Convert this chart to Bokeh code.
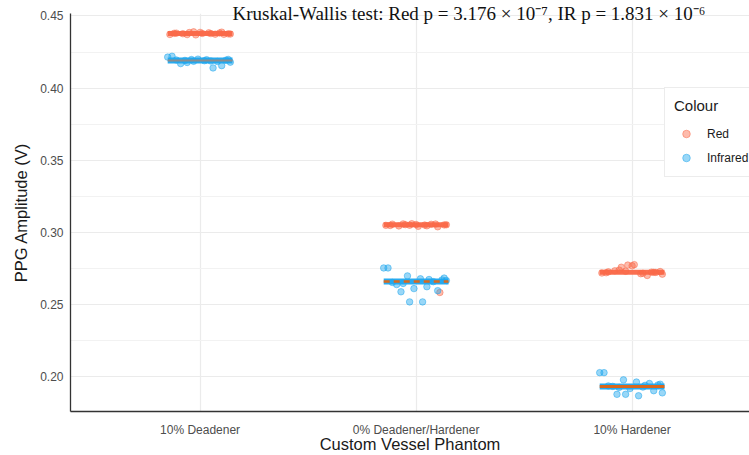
from bokeh.plotting import figure
from bokeh.models import Range1d, FixedTicker, Title, Legend, LegendItem, ColumnDataSource
from bokeh.embed import file_html
from bokeh.resources import INLINE

categories = ["10% Deadener", "0% Deadener/Hardener", "10% Hardener"]
series_names = ["Red", "Infrared"]
y_ticks = [0.20, 0.25, 0.30, 0.35, 0.40, 0.45]
y_minor = [0.175, 0.225, 0.275, 0.325, 0.375, 0.425]

red_deadener = [0.4372, 0.4381, 0.4377, 0.4385, 0.4369, 0.4379, 0.4383, 0.4374, 0.4388,
                0.4376, 0.4380, 0.4371, 0.4386, 0.4378, 0.4382, 0.4375, 0.4390, 0.4373]
red_neutral = [0.3050, 0.3058, 0.3046, 0.3055, 0.3061, 0.3043, 0.3052, 0.3057, 0.3040,
               0.3053, 0.3049, 0.3060, 0.3056, 0.3047, 0.3059, 0.3054, 0.3051, 0.2585]
red_hardener = [0.2720, 0.2728, 0.2735, 0.2760, 0.2775, 0.2778, 0.2715, 0.2703, 0.2725,
                0.2730, 0.2722, 0.2740, 0.2770, 0.2718, 0.2726, 0.2712, 0.2732, 0.2724]

ir_deadener = [0.4221, 0.4215, 0.4198, 0.4190, 0.4185, 0.4194, 0.4170, 0.4188, 0.4201,
               0.4156, 0.4192, 0.4186, 0.4197, 0.4180, 0.4195, 0.4140, 0.4178, 0.4199]
ir_neutral = [0.2755, 0.2755, 0.2700, 0.2680, 0.2660, 0.2672, 0.2640, 0.2625, 0.2612,
              0.2598, 0.2590, 0.2520, 0.2520, 0.2668, 0.2655, 0.2675, 0.2648, 0.2685]
ir_hardener = [0.2030, 0.2030, 0.1980, 0.1965, 0.1955, 0.1945, 0.1935, 0.1930, 0.1920,
               0.1905, 0.1880, 0.1880, 0.1870, 0.1890, 0.1938, 0.1942, 0.1928, 0.1950]

jitter_red = [-0.14, -0.11, -0.08, -0.05, -0.02, 0.01, 0.04, 0.07, 0.10,
              0.13, -0.12, -0.06, 0.00, 0.05, 0.09, 0.14, -0.03, 0.11]
jitter_ir = [-0.13, -0.15, -0.04, 0.02, 0.08, 0.12, -0.09, 0.05, -0.01,
             0.10, -0.07, -0.03, 0.03, 0.14, -0.11, 0.06, -0.06, 0.13]

red_mean = [0.4378, 0.3054, 0.2726]
ir_mean = [0.4192, 0.2661, 0.1934]

title_text = "Kruskal-Wallis test: Red p = 3.176 \u00d7 10\u207b\u2077, IR p = 1.831 \u00d7 10\u207b\u2076"
x_title = "Custom Vessel Phantom"
y_title = "PPG Amplitude (V)"

RED = "#FA6848"
BLUE = "#1DA6EE"
FONT = "Liberation Sans"

W, H = 749, 455
BL, BT, BB = 70, 13, 44

p = figure(width=W, height=H, output_backend="svg", toolbar_location=None,
           x_range=Range1d(-0.6, 2.5435), y_range=Range1d(0.1761, 0.4517),
           min_border_left=BL, min_border_right=0, min_border_top=BT, min_border_bottom=BB)
p.outline_line_color = None
p.background_fill_color = "white"
p.border_fill_color = "white"

p.title = Title(text=title_text, align="left", offset=162, vertical_align="bottom",
                standoff=-20, text_font="Liberation Serif", text_font_size="19px",
                text_font_style="normal", text_color="#111111")

def build(groups, jit):
    xs, ys = [], []
    for i, vals in enumerate(groups):
        for k, v in enumerate(vals):
            xs.append(i + jit[k])
            ys.append(v)
    return ColumnDataSource(dict(x=xs, y=ys))

red_src = build([red_deadener, red_neutral, red_hardener], jitter_red)
ir_src = build([ir_deadener, ir_neutral, ir_hardener], jitter_ir)

r_red = p.scatter("x", "y", source=red_src, size=6.5, fill_color=RED, line_color=RED,
                  fill_alpha=0.45, line_alpha=0.5)
r_ir = p.scatter("x", "y", source=ir_src, size=6.5, fill_color=BLUE, line_color=BLUE,
                 fill_alpha=0.45, line_alpha=0.5)

idx = list(range(len(categories)))
half = 0.15
p.segment(x0=[i - half for i in idx], x1=[i + half for i in idx], y0=red_mean, y1=red_mean,
          line_color=RED, line_width=5, line_alpha=0.95)
p.segment(x0=[i - half for i in idx], x1=[i + half for i in idx], y0=ir_mean, y1=ir_mean,
          line_color=BLUE, line_width=6, line_alpha=0.95)
# inner summary marks on the infrared bars
p.segment(x0=[idx[0] - half], x1=[idx[0] + half], y0=[ir_mean[0]], y1=[ir_mean[0]],
          line_color="#8C8C8C", line_width=2)
p.segment(x0=[idx[1] - half], x1=[idx[1] + half], y0=[ir_mean[1]], y1=[ir_mean[1]],
          line_color="#D9691E", line_width=2.5, line_dash="6 4")
p.segment(x0=[idx[2] - half], x1=[idx[2] + half], y0=[ir_mean[2]], y1=[ir_mean[2]],
          line_color="#D9691E", line_width=3)

# axes
p.xaxis.ticker = FixedTicker(ticks=idx)
p.xaxis.major_label_overrides = {i: c for i, c in zip(idx, categories)}
p.yaxis.ticker = FixedTicker(ticks=y_ticks, minor_ticks=y_minor)
p.yaxis.formatter.use_scientific = False
p.yaxis.major_label_overrides = {t: f"{t:.2f}" for t in y_ticks}
for ax in (p.xaxis[0], p.yaxis[0]):
    ax.axis_line_color = "#333333"
    ax.axis_line_width = 1.3
    ax.major_tick_line_color = None
    ax.minor_tick_line_color = None
    ax.major_tick_out = 0
    ax.major_tick_in = 0
    ax.minor_tick_out = 0
    ax.minor_tick_in = 0
    ax.major_label_text_font = FONT
    ax.major_label_text_font_size = "12px"
    ax.major_label_text_color = "#4D4D4D"
    ax.axis_label_text_font = FONT
    ax.axis_label_text_font_size = "16.5px"
    ax.axis_label_text_font_style = "normal"
    ax.axis_label_text_color = "#1A1A1A"
p.yaxis.axis_label = y_title
p.xaxis.axis_label = x_title
p.xaxis.major_label_standoff = 11
p.xaxis.axis_label_standoff = -5
p.yaxis.major_label_standoff = 7
p.yaxis.axis_label_standoff = 7

p.xgrid.grid_line_color = "#EBEBEB"
p.xgrid.grid_line_width = 1.2
p.ygrid.grid_line_color = "#EBEBEB"
p.ygrid.grid_line_width = 1.2
p.ygrid.minor_grid_line_color = "#F2F2F2"
p.ygrid.minor_grid_line_width = 1

legend = Legend(items=[LegendItem(label=series_names[0], renderers=[r_red]),
                       LegendItem(label=series_names[1], renderers=[r_ir])],
                location=(594, 234), title="Colour",
                title_text_font=FONT, title_text_font_size="15px", title_text_color="#1A1A1A",
                title_text_font_style="normal", title_standoff=10,
                label_text_font=FONT, label_text_font_size="12px", label_text_color="#1A1A1A",
                glyph_width=24, glyph_height=19, label_standoff=9, spacing=5,
                padding=9, margin=0,
                border_line_color="#D9D9D9", border_line_width=1,
                background_fill_color="white", background_fill_alpha=1)
p.add_layout(legend, "center")

open("out.html", "w").write(file_html(p, INLINE))
